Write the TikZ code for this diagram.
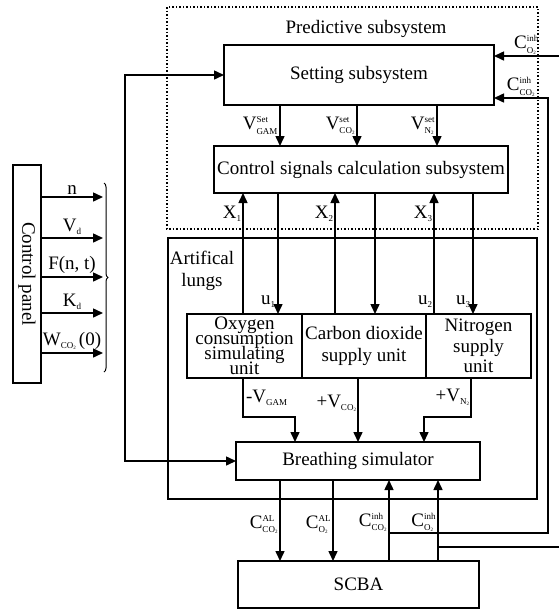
\documentclass[tikz,border=0pt]{standalone}
\usepackage{fontspec}
\setmainfont{Liberation Serif}
\usetikzlibrary{positioning,arrows.meta,decorations.pathreplacing}
\newcommand{\lo}[1]{\raisebox{-3pt}{\fontsize{9}{9}\selectfont #1}}
\newcommand{\quant}[3]{$\mbox{#1}^{\mbox{\fontsize{9}{9}\selectfont #2}}_{\mbox{\fontsize{9}{9}\selectfont #3}}$}
\newcommand{\ctwo}{CO\raisebox{-1pt}{\fontsize{5}{5}\selectfont 2}}
\newcommand{\otwo}{O\raisebox{-1pt}{\fontsize{5}{5}\selectfont 2}}
\newcommand{\ntwo}{N\raisebox{-1pt}{\fontsize{5}{5}\selectfont 2}}
\newcommand{\tightlines}{\lineskiplimit=-30pt\relax}

\begin{document}
\begin{tikzpicture}[
    x=1pt, y=-1pt,
    every node/.style={
        font=\fontsize{19}{22}\selectfont,
        inner sep=0pt,
        outer sep=0pt
      },
    box/.style={draw, align=center},
    >={Triangle[length=10pt,width=9pt]},
    line width=1.5pt
    ]
    \useasboundingbox (0,0) rectangle (559,611);

    % ============= PREDICTIVE SUBSYSTEM ==================

    % -------------------------------
    \draw[dotted] (167,7) rectangle (538,229);
    \node (PS) at (366,29) {Predictive subsystem};
    \node[box, minimum width=270, minimum height=60] (SET) at (359,75) {Setting subsystem};
    \node[box, minimum width=294, minimum height=47] (CS) at (361,169.5) {Control signals calculation subsystem};
    % -------------------------------

    % ============= ARTIFICAL LUNGS ==================

    % -------------------------------
    \draw (168,238) rectangle (537,499);
    \node[align=center] (AL) at (202,271) {Artifical\\lungs};
    \node[box, minimum width=115, minimum height=64, font=\fontsize{19}{15}\selectfont\tightlines] (OX) at (244.5,346) {Oxygen\\consumption\\simulating\\unit};
    \node[box, minimum width=124, minimum height=64, right=0pt of OX] (CD) {Carbon dioxide\\supply unit};
    \node[box, minimum width=105, minimum height=64, font=\fontsize{19}{20.5}\selectfont, right=0pt of CD] (NS) {Nitrogen\\supply\\unit};
    \node[box, minimum width=244, minimum height=38] (BS) at (358,461) {Breathing simulator};
    % -------------------------------

    % -------------------------------
    \node[box, minimum width=241, minimum height=47] (SC) at (358.5,584.5) {SCBA};
    % -------------------------------

    % ============= CONTROL PANEL (GAUCHE) ==================

    % -------------------------------
    \node[box, minimum width=218, minimum height=28, rotate=-90] (CP) at (27,274) {Control panel};
    \foreach \y/\lbl in {197/n, 238/V\lo{d}, 277/{F(n, t)}, 313/K\lo{d}, 353/{W\lo{\ctwo}\,(0)}}
      \draw[->] (CP.north |- 0,\y) -- node[above=3pt]{\lbl} (103,\y);
    \draw[decorate, decoration={brace, amplitude=4pt}, line width=1pt] (104,183) -- (104,372);
    % -------------------------------

    % ============= LIGNES ==================
    \draw[<->] (SET.west) -- (SET.west -| 125,0) |- (BS.west);

    \draw[->] (SET.south -| 280,0) -- node[left=2pt]{\quant{V}{Set}{GAM}} (CS.north -| 280,0);
    \draw[->] (SET.south -| 357,0) -- node[left=2pt]{\quant{V}{set}{\ctwo}} (CS.north -| 357,0);
    \draw[->] (SET.south -| 437,0) -- node[left=2pt]{\quant{V}{set}{\ntwo}} (CS.north -| 437,0);

    \draw[->] (OX.north -| 243,0) -- node[left=2pt, pos=.83]{X\lo{1}} (CS.south -| 243,0);
    \draw[->] (CS.south -| 278,0) -- node[left=3pt, pos=.9]{u\lo{1}} (OX.north -| 278,0);
    \draw[->] (CD.north -| 335,0) -- node[left=2pt, pos=.83]{X\lo{2}} (CS.south -| 335,0);
    \draw[->] (CS.south -| 375,0) -- (CD.north -| 375,0);
    \draw[->] (NS.north -| 434,0) -- node[left=2pt, pos=.83]{X\lo{3}} node[left=2pt, pos=.1]{u\lo{2}} (CS.south -| 434,0);
    \draw[->] (CS.south -| 473,0) -- node[left=3pt, pos=.9]{u\lo{3}} (NS.north -| 473,0);

    \draw[->] (OX.south -| 243,0) -- node[right=3pt]{-V\lo{GAM}} ++(0,39) -| (BS.north -| 295,0);
    \draw[->] (CD.south -| 358,0) -- node[left=2pt, pos=.4]{+V\lo{\ctwo}} (BS.north -| 358,0);
    \draw[->] (NS.south -| 471,0) -- node[left=2pt]{+V\lo{\ntwo}} ++(0,39) -| (BS.north -| 424,0);

    \draw[->] (BS.south -| 280,0) -- node[left=2pt, pos=.55]{\quant{C}{AL}{\ctwo}} (SC.north -| 280,0);
    \draw[->] (BS.south -| 333,0) -- node[left=2pt, pos=.55]{\quant{C}{AL}{\otwo}} (SC.north -| 333,0);
    \draw[->] (SC.north -| 389,0) -- node[left=2pt, pos=.48]{\quant{C}{inh}{\ctwo}} (BS.south -| 389,0);
    \draw[->] (SC.north -| 438,0) -- node[left=2pt, pos=.48]{\quant{C}{inh}{\otwo}} (BS.south -| 438,0);

    \draw[->] (SC.north -| 389,0) ++(0,-28) -| (548,98) -- node[above=2pt]{\quant{C}{inh}{\ctwo}} (SET.east |- 0,98);
    \draw[->] (559,56) -- node[above=2pt]{\quant{C}{inh}{\otwo}} (SET.east |- 0,56);
    \draw (SC.north -| 438,0) ++(0,-14) -- (559,547);

  \end{tikzpicture}
\end{document}
